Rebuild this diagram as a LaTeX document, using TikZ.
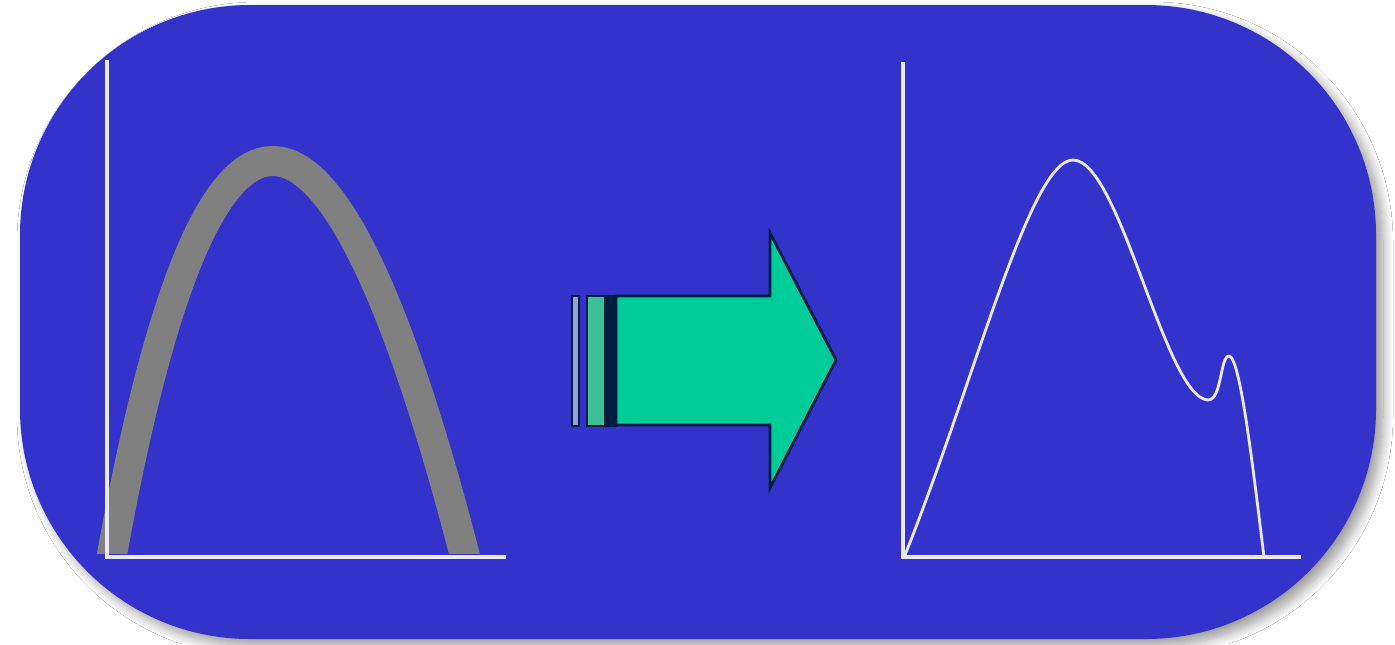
\documentclass[tikz,border=0pt]{standalone}
\usetikzlibrary{shadows.blur}
\definecolor{panel}{RGB}{51,51,204}
\definecolor{axisc}{RGB}{232,232,255}
\definecolor{greyc}{RGB}{128,128,128}
\definecolor{teal}{RGB}{0,204,153}
\definecolor{tealdim}{RGB}{60,190,150}
\definecolor{navy}{RGB}{0,30,64}
\definecolor{stripe}{RGB}{150,160,215}
\tikzset{
  axisline/.style={draw=axisc, line width=1.6pt},
  bellgrey/.style={draw=greyc, line width=15pt},
  curvewhite/.style={draw=axisc, line width=1.4pt},
  arrowbody/.style={fill=teal, draw=navy, line width=1.4pt, line join=miter},
}
\begin{document}
\begin{tikzpicture}[x=0.5pt, y=-0.5pt]
\useasboundingbox (0,0) rectangle (1395,644);
\fill[white] (0,0) rectangle (1395,644);
% panel
\path[fill=panel, rounded corners=115pt,
  blur shadow={shadow xshift=3.5pt, shadow yshift=-3.5pt, shadow blur steps=14, shadow blur radius=5pt, shadow opacity=40}]
  (20,5) rectangle (1376,639);
% left chart
\begin{scope}
\clip (60,100) rectangle (520,553);
\draw[bellgrey] (111,560) .. controls (206,28) and (329,28) .. (466,560);
\end{scope}
\draw[axisline] (107,60) -- (107,557);
\draw[axisline] (105,557) -- (506,557);
% arrow
\draw[fill=stripe, draw=navy, line width=1.2pt] (572,296) rectangle (579,426);
\fill[tealdim] (587,296) rectangle (604,426);
\fill[navy] (604,296) rectangle (616,426);
\draw[navy, line width=1.4pt] (587,296) rectangle (616,426);
\draw[arrowbody] (616,296) -- (770,296) -- (770,233) -- (836,360) -- (770,488) -- (770,425) -- (616,425) -- cycle;
% right chart
\draw[axisline] (903,62) -- (903,557);
\draw[axisline] (901,557) -- (1301,557);
\draw[curvewhite, line join=round] (905,555) .. controls (975,380) and (1030,160) .. (1073,160)
  .. controls (1120,160) and (1165,398) .. (1208,400)
  .. controls (1222,400) and (1220,356) .. (1229,356)
  .. controls (1240,357) and (1252,460) .. (1264,557);
\end{tikzpicture}
\end{document}
